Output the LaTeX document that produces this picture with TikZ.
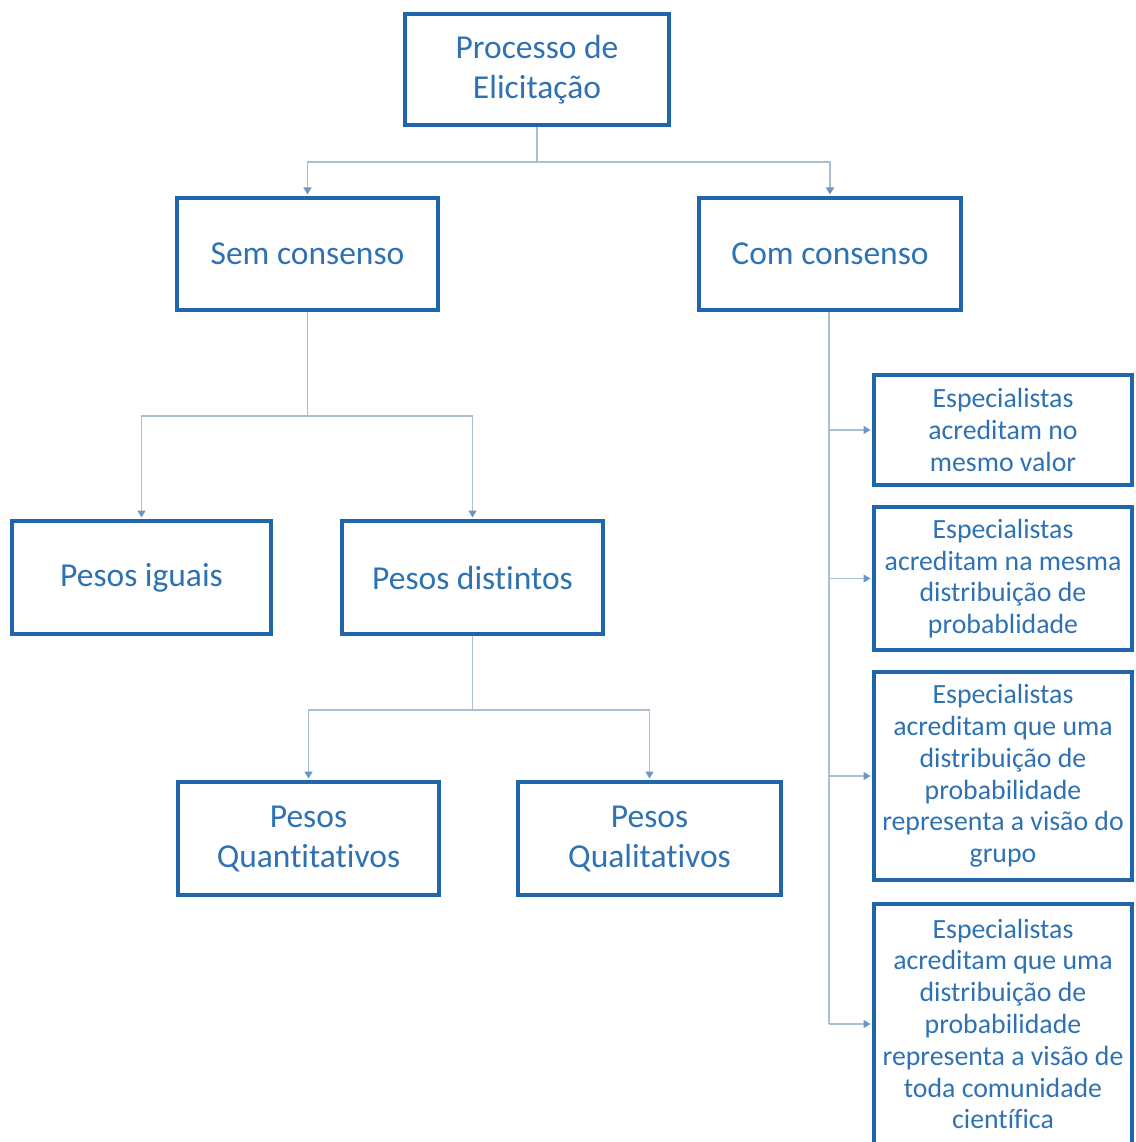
\documentclass[tikz,border=0pt]{standalone}
\usepackage{fontspec}
\setmainfont{Carlito}[Ligatures={NoCommon,NoRare}]
\usetikzlibrary{arrows.meta}
\definecolor{boxblue}{HTML}{1F66AB}
\definecolor{txtblue}{HTML}{2E72B4}
\definecolor{linegray}{HTML}{ABBFD2}
\definecolor{tipblue}{HTML}{6B96C6}
\tikzset{
  box/.style={draw=boxblue, line width=4pt, fill=white, inner sep=0pt,
    align=center, text=txtblue, font=\fontsize{33.5}{40}\selectfont},
  smallbox/.style={box, minimum width=258pt, font=\fontsize{27.8}{31.8}\selectfont},
  conn/.style={draw=linegray, line width=1.5pt},
  arr/.style={conn, -{Triangle[length=7pt,width=8pt,color=tipblue]}, shorten >=1.5pt},
}
\begin{document}
\begin{tikzpicture}[x=1pt,y=-1pt]
\useasboundingbox (0,0) rectangle (1135,1142);
\clip (0,0) rectangle (1135,1142);
% upper levels
\node[box, minimum width=264pt, minimum height=111pt] (top) at (537,69.5) {Processo de\\Elicitação};
\node[box, minimum width=261pt, minimum height=112pt] (sem) at (307.5,254) {Sem consenso};
\node[box, minimum width=262pt, minimum height=112pt] (com) at (830,254) {Com consenso};
% weights
\node[box, minimum width=259pt, minimum height=113pt] (iguais) at (141.5,577.5) {Pesos iguais};
\node[box, minimum width=261pt, minimum height=113pt] (distintos) at (472.5,577.5) {Pesos distintos};
\node[box, minimum width=261pt, minimum height=113pt] (quant) at (308.5,838.5) {Pesos\\Quantitativos};
\node[box, minimum width=263pt, minimum height=113pt] (qual) at (649.5,838.5) {Pesos\\Qualitativos};
% consensus types
\node[smallbox, minimum height=110pt] (r1) at (1003,430) {Especialistas\\acreditam no\\mesmo valor};
\node[smallbox, minimum height=143pt] (r2) at (1003,578.5) {Especialistas\\acreditam na mesma\\distribuição de\\probablidade};
\node[smallbox, minimum height=208pt] (r3) at (1003,776) {Especialistas\\acreditam que uma\\distribuição de\\probabilidade\\representa a visão do\\grupo};
\node[smallbox, minimum height=240pt] (r4) at (1003,1024) {Especialistas\\acreditam que uma\\distribuição de\\probabilidade\\representa a visão de\\toda comunidade\\científica};
% junction points
\coordinate (j1) at (537,162);
\coordinate (j2) at (307.5,416);
\coordinate (j3) at (472.5,710);
\coordinate (spine) at (829,312);
% connectors
\draw[conn] (top.south) -- (j1);
\draw[arr] (j1) -| (sem.north);
\draw[arr] (j1) -| (com.north);
\draw[conn] (sem.south) -- (j2);
\draw[arr] (j2) -| (iguais.north);
\draw[arr] (j2) -| (distintos.north);
\draw[conn] (distintos.south) -- (j3);
\draw[arr] (j3) -| (quant.north);
\draw[arr] (j3) -| (qual.north);
\draw[conn] (spine |- com.south) -- (spine |- r4.west);
\draw[arr] (spine |- r1.west) -- (r1.west);
\draw[arr] (spine |- r2.west) -- (r2.west);
\draw[arr] (spine |- r3.west) -- (r3.west);
\draw[arr] (spine |- r4.west) -- (r4.west);
\end{tikzpicture}
\end{document}
